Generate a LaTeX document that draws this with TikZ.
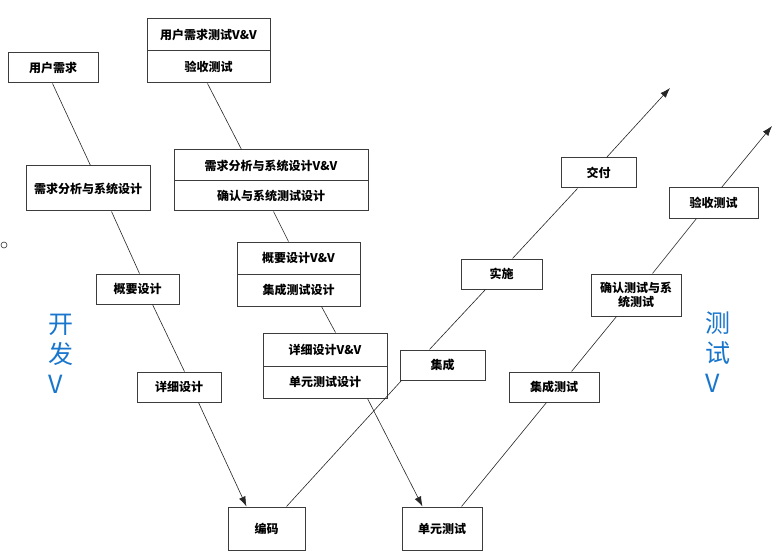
\documentclass[tikz,border=0pt]{standalone}
\usepackage{fontspec}
\newfontfamily\cjk{Noto Sans CJK SC}
\usetikzlibrary{arrows.meta}
\definecolor{vblue}{RGB}{25,118,205}
\definecolor{boxline}{RGB}{60,60,60}
\tikzset{
  box/.style={draw=boxline, line width=1pt, fill=white, inner sep=0pt, font=\cjk\bfseries\fontsize{12}{14.5}\selectfont, align=center},
  conn/.style={draw=black!85, line width=0.6pt},
  arr/.style={conn, -{Latex[length=10pt,width=7pt]}},
  vlabel/.style={font=\cjk\fontsize{25}{30}\selectfont, text=vblue, align=left, anchor=west, inner sep=0pt}
}
\begin{document}
\begin{tikzpicture}[x=1pt,y=-1pt]
\useasboundingbox (0,0) rectangle (784,556);
% left V
\node[box, minimum width=90pt, minimum height=30pt] (ur) at (53,68) {用户需求};
\node[box, minimum width=124pt, minimum height=45pt] (rs) at (88,188.5) {需求分析与系统设计};
\node[box, minimum width=83pt, minimum height=30pt] (gy) at (137.5,289) {概要设计};
\node[box, minimum width=84pt, minimum height=30pt] (xx) at (179,387) {详细设计};
\node[box, minimum width=77pt, minimum height=43pt] (bm) at (266.5,528.5) {编码};
% V&V column
\node[box, minimum width=123pt, minimum height=32pt] (at1) at (208.5,35) {用户需求测试V\&V};
\node[box, minimum width=123pt, minimum height=32pt] (at2) at (208.5,67) {验收测试};
\node[box, minimum width=194pt, minimum height=31pt] (sv1) at (271,165.5) {需求分析与系统设计V\&V};
\node[box, minimum width=194pt, minimum height=30pt] (sv2) at (271,196) {确认与系统测试设计};
\node[box, minimum width=123pt, minimum height=32pt] (gv1) at (298.5,258) {概要设计V\&V};
\node[box, minimum width=123pt, minimum height=32pt] (gv2) at (298.5,290) {集成测试设计};
\node[box, minimum width=124pt, minimum height=33pt] (xv1) at (325,349.5) {详细设计V\&V};
\node[box, minimum width=124pt, minimum height=32pt] (xv2) at (325,382) {单元测试设计};
% right branches
\node[box, minimum width=80pt, minimum height=43pt] (dy) at (442,528.5) {单元测试};
\node[box, minimum width=85pt, minimum height=30pt] (jc) at (442.5,365) {集成};
\node[box, minimum width=81pt, minimum height=30pt] (ss) at (501.5,274) {实施};
\node[box, minimum width=75pt, minimum height=30pt] (jf) at (598.5,173) {交付};
\node[box, minimum width=90pt, minimum height=30pt] (jt) at (554,387) {集成测试};
\node[box, minimum width=90pt, minimum height=42pt] (qr) at (636,295) {确认测试与系\\统测试};
\node[box, minimum width=89pt, minimum height=30pt] (ys) at (713.5,203) {验收测试};
\coordinate (tip1) at (670,88);
\coordinate (tip2) at (772,126);
% labels
\node[vlabel] (kf) at (48,354) {开\\发\\V};
\node[vlabel] (cs) at (705,352) {测\\试\\V};
\node[circle, draw=black!80, line width=0.6pt, inner sep=0pt, minimum size=6pt] (dot) at (4,245) {};
% connectors left V
\draw[conn] ([xshift=45pt]ur.south west) -- ([xshift=65pt]rs.north west);
\draw[conn] ([xshift=86pt]rs.south west) -- ([xshift=44pt]gy.north west);
\draw[conn] ([xshift=57pt]gy.south west) -- ([xshift=48pt]xx.north west);
\draw[arr] ([xshift=62pt]xx.south west) -- ([xshift=19pt]bm.north west);
% connectors V&V
\draw[conn] ([xshift=61pt]at2.south west) -- ([xshift=68pt]sv1.north west);
\draw[conn] ([xshift=100pt]sv2.south west) -- ([xshift=52pt]gv1.north west);
\draw[conn] ([xshift=85pt]gv2.south west) -- ([xshift=73pt]xv1.north west);
\draw[arr] ([xshift=105pt]xv2.south west) -- ([xshift=21pt]dy.north west);
% connectors right
\draw[conn] ([xshift=59pt]bm.north west) -- ([xshift=2pt]jc.south west);
\draw[conn] ([xshift=30pt]jc.north west) -- ([xshift=25pt]ss.south west);
\draw[conn] ([xshift=52pt]ss.north west) -- ([xshift=17pt]jf.south west);
\draw[arr] ([xshift=46pt]jf.north west) -- (tip1);
\draw[conn] ([xshift=60pt]dy.north west) -- ([xshift=38pt]jt.south west);
\draw[conn] ([xshift=63pt]jt.north west) -- ([xshift=26pt]qr.south west);
\draw[conn] ([xshift=62pt]qr.north west) -- ([xshift=28pt]ys.south west);
\draw[arr] ([xshift=53pt]ys.north west) -- (tip2);
\end{tikzpicture}
\end{document}
